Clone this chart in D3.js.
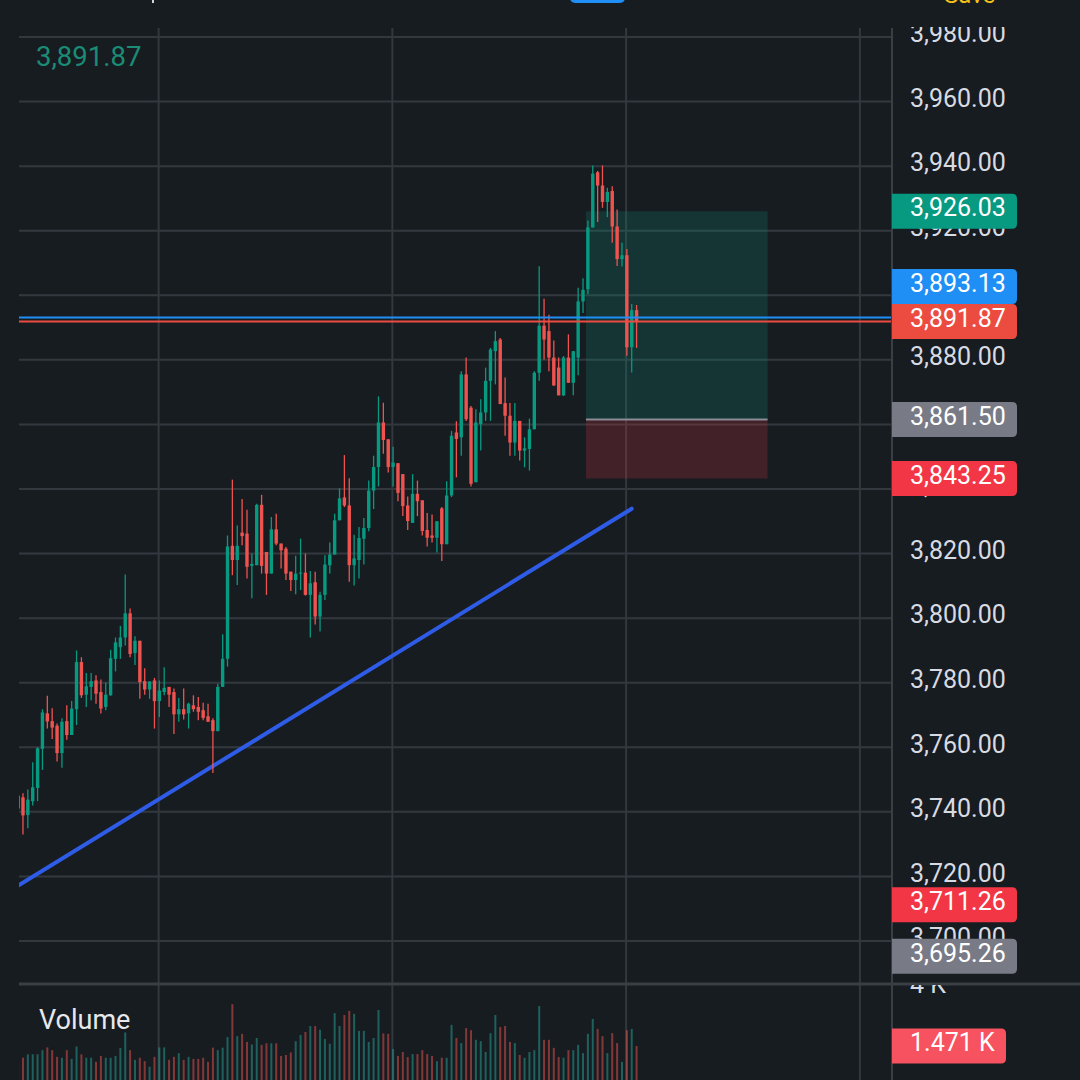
<!DOCTYPE html>
<html><head><meta charset="utf-8">
<script src="https://cdn.jsdelivr.net/npm/d3@7"></script>
<style>
html,body{margin:0;padding:0;background:#171c21;}
svg{display:block;font-family:Roboto,"Noto Sans",sans-serif;}
</style>
</head><body>
<svg id="chart" width="1080" height="1080"></svg>
<script>
// ---------- data ----------
const opens = [3745.0,
3744.5,3739.0,3743.3,3747.4,3759.5,3770.5,3768.1,3766.7,3758.2,3768.1,
3763.8,3771.8,3786.4,3776.3,3778.7,3780.7,3777.1,3772.5,3776.1,3787.4,
3791.0,3794.0,3801.5,3789.2,3793.0,3780.5,3777.9,3780.7,3774.3,3777.1,
3778.7,3777.1,3770.2,3771.8,3770.5,3773.0,3772.5,3771.5,3769.6,3768.4,
3765.0,3778.7,3787.4,3822.4,3818.0,3826.5,3826.2,3816.2,3816.4,3835.1,
3820.5,3813.8,3827.5,3823.1,3821.5,3814.4,3811.8,3813.8,3814.1,3807.2,
3811.1,3800.5,3807.2,3816.4,3819.7,3830.3,3837.4,3834.9,3816.4,3818.0,
3824.6,3827.9,3839.5,3846.8,3860.6,3855.4,3846.8,3848.0,3844.6,3834.9,
3829.5,3838.5,3836.5,3827.3,3825.6,3824.9,3834.0,3822.9,3838.0,3857.5,
3856.0,3875.5,3865.2,3842.1,3860.1,3863.7,3873.5,3882.7,3886.3,3866.6,
3862.7,3854.4,3861.1,3851.9,3852.4,3858.5,3876.0,3890.6,3888.9,3880.7,
3877.6,3869.0,3880.7,3872.9,3880.7,3898.1,3901.9,3921.0,3938.1,3934.0,
3928.9,3932.3,3921.3,3911.2,3912.4,3883.9,3895.4];
const highs = [3745.8,
3745.8,3746.9,3755.4,3760.0,3771.8,3776.0,3772.1,3767.4,3769.0,3773.0,
3774.3,3790.0,3787.9,3783.0,3783.0,3782.3,3781.0,3780.0,3790.2,3794.0,
3797.6,3813.5,3803.0,3794.4,3793.0,3784.5,3780.4,3781.5,3780.7,3784.8,
3778.7,3778.2,3775.3,3778.2,3773.8,3776.1,3775.6,3773.8,3773.5,3769.0,
3779.7,3795.0,3825.6,3842.9,3828.7,3836.9,3833.6,3820.0,3835.4,3838.2,
3820.5,3831.3,3832.3,3823.1,3822.0,3814.4,3819.3,3824.6,3820.0,3814.6,
3814.4,3808.2,3819.5,3823.4,3832.3,3840.2,3850.5,3843.3,3825.8,3828.2,
3831.0,3842.6,3850.3,3868.7,3866.7,3855.4,3853.1,3848.0,3844.6,3837.7,
3844.6,3842.6,3836.5,3832.6,3832.1,3830.0,3834.4,3842.4,3858.0,3861.0,
3876.5,3880.7,3865.7,3864.7,3867.8,3877.6,3883.7,3888.9,3886.8,3874.5,
3866.6,3866.6,3861.1,3856.0,3861.8,3876.5,3909.0,3898.9,3894.0,3886.0,
3880.7,3881.2,3887.9,3882.7,3902.3,3905.3,3923.2,3940.2,3938.5,3940.2,
3933.3,3933.8,3926.6,3916.3,3914.3,3897.3,3897.0];
const lows = [3740.0,
3733.0,3734.9,3742.0,3743.3,3753.0,3765.8,3762.6,3755.6,3753.7,3762.3,
3763.8,3766.9,3775.3,3772.5,3774.6,3773.5,3770.5,3771.5,3776.0,3783.5,
3787.4,3791.5,3787.9,3785.5,3775.0,3776.3,3775.0,3765.8,3769.4,3776.1,
3772.5,3764.1,3767.9,3768.6,3765.8,3771.0,3768.4,3768.4,3767.9,3752.0,
3765.0,3778.7,3785.0,3813.3,3810.3,3822.6,3812.3,3806.2,3816.4,3813.8,
3807.2,3813.8,3822.6,3815.4,3811.8,3808.4,3807.4,3808.7,3807.0,3794.0,
3798.0,3795.9,3805.6,3813.8,3819.7,3830.3,3834.4,3811.3,3810.1,3812.3,
3816.6,3826.9,3833.8,3840.8,3850.9,3845.1,3840.8,3836.2,3831.6,3827.3,
3829.5,3831.6,3825.6,3822.2,3823.4,3820.3,3817.7,3822.9,3837.5,3843.6,
3850.3,3861.1,3840.8,3842.1,3851.9,3861.1,3861.1,3872.4,3866.3,3856.5,
3850.3,3850.3,3848.8,3846.7,3845.7,3858.5,3873.5,3880.1,3876.5,3871.9,
3869.0,3868.8,3872.9,3869.0,3875.2,3894.5,3900.4,3921.0,3922.7,3927.1,
3924.2,3916.3,3909.1,3908.9,3881.3,3876.1,3883.7];
const closes = [3741.0,
3738.9,3743.8,3747.6,3759.7,3770.8,3768.0,3766.1,3758.2,3767.9,3763.8,
3772.0,3786.4,3776.1,3778.9,3780.5,3776.6,3772.0,3776.3,3787.6,3792.5,
3794.0,3801.5,3788.9,3793.0,3780.2,3777.9,3780.4,3774.3,3777.6,3778.4,
3776.3,3770.2,3771.8,3770.2,3773.5,3771.8,3771.0,3769.1,3767.9,3765.0,
3778.7,3787.4,3822.2,3818.0,3822.4,3825.4,3815.9,3816.8,3835.1,3816.2,
3813.8,3827.5,3823.1,3821.0,3813.8,3811.8,3813.8,3814.1,3807.2,3810.8,
3800.5,3807.2,3816.6,3819.7,3830.3,3837.1,3834.9,3816.4,3818.5,3824.8,
3827.9,3839.5,3846.8,3860.6,3855.2,3846.8,3848.2,3838.8,3834.7,3830.1,
3838.5,3836.2,3827.0,3824.9,3824.9,3830.0,3822.9,3838.0,3856.5,3855.5,
3875.5,3861.6,3841.6,3860.6,3863.7,3873.5,3883.2,3885.8,3866.3,3862.7,
3854.4,3861.1,3851.9,3852.6,3858.5,3876.0,3890.6,3886.3,3880.7,3872.1,
3869.0,3880.7,3872.9,3882.7,3898.1,3901.7,3921.0,3937.7,3934.0,3928.9,
3932.0,3921.3,3911.2,3912.4,3883.9,3895.4,3891.87];
// volume in thousands
const volumes = [0.64,
0.96,1.11,1.11,1.11,1.29,1.41,1.29,1.00,0.96,1.29,
0.91,1.45,1.11,0.96,0.96,0.78,1.04,0.96,0.96,1.04,
1.38,2.06,1.29,0.87,0.96,0.81,0.57,1.00,1.41,1.41,
0.87,1.00,1.16,0.87,1.00,0.91,0.91,0.96,0.78,1.40,
1.29,1.40,1.86,3.29,1.90,2.00,1.65,1.54,1.82,1.52,
1.59,1.59,1.59,1.04,1.08,1.19,1.68,1.95,2.08,2.34,
2.34,2.18,1.78,1.57,2.90,2.34,2.82,3.00,2.87,2.13,
2.13,1.65,1.82,3.04,2.02,2.00,1.34,1.04,1.21,0.99,
1.12,1.12,1.29,1.12,1.04,0.81,0.96,0.96,2.39,1.82,
1.60,2.25,2.16,1.74,1.68,1.21,2.03,2.82,2.30,2.34,
1.65,1.60,1.08,0.96,1.21,1.29,3.21,1.74,1.74,1.39,
0.99,0.96,1.29,1.29,1.52,1.16,2.00,2.65,2.21,1.90,
1.16,2.03,1.60,0.78,2.16,2.21,1.471];

const priceTicks = [3980,3960,3940,3920,3900,3880,3860,3840,3820,3800,3780,3760,3740,3720,3700];
const volumeTicks = [4];
const timeGridIndex = [28.85, 76.85, 124.85, 172.85];

// drawings (in data units: candle index / price)
const trendStart = {i: 0.2, price: 3717.3};
const trendEnd   = {i: 126, price: 3833.9};
const positionStartIdx = 116.6, positionEndIdx = 153.9;
const targetPrice = 3926.03, entryPrice = 3861.50, stopPrice = 3843.25;
const bluePrice = 3893.13, lastPrice = 3891.87;

const axisLabels = [
  {value: lastPrice,  text: "3,891.87", color: "#ec4c40", priority: 0},
  {value: bluePrice,  text: "3,893.13", color: "#1f8ef5", priority: 1},
  {value: targetPrice,text: "3,926.03", color: "#089981", priority: 2},
  {value: entryPrice, text: "3,861.50", color: "#787b86", priority: 3},
  {value: stopPrice,  text: "3,843.25", color: "#f23645", priority: 4},
  {value: 3711.26,    text: "3,711.26", color: "#f23645", priority: 5},
  {value: 3695.26,    text: "3,695.26", color: "#787b86", priority: 6}
];
const volumeLabel = {value: 1.471, text: "1.471 K", color: "#f7525f"};

// ---------- layout ----------
const W = 1080, H = 1080;
const plotL = 19, plotR = 892, paneTop = 28, paneBot = 983, volTop = 986;
const UP = "#089981", DOWN = "#ef5350";
const UPV = "rgba(38,166,154,0.5)", DOWNV = "rgba(239,83,80,0.5)";
const GRID = "#33383e";
const TXT_DY = "0.21em";

const N = opens.length;
const x = d3.scaleLinear().domain([0, N - 1]).range([18.1, 18.1 + 4.87 * (N - 1)]);
const y = d3.scaleLinear().domain([3700, 3980]).range([941, 37]);
const yv = d3.scaleLinear().domain([0, 4]).range([1079.8, 987.9]);

const svg = d3.select("#chart");
svg.append("rect").attr("width", W).attr("height", H).attr("fill", "#171c21");

const defs = svg.append("defs");
defs.append("clipPath").attr("id", "mainClip").append("rect")
  .attr("x", plotL).attr("y", paneTop).attr("width", plotR - plotL).attr("height", paneBot - paneTop);
defs.append("clipPath").attr("id", "volClip").append("rect")
  .attr("x", plotL).attr("y", volTop).attr("width", plotR - plotL).attr("height", H - volTop);
defs.append("clipPath").attr("id", "axisClip").append("rect")
  .attr("x", plotR).attr("y", paneTop - 1).attr("width", W - plotR).attr("height", paneBot - paneTop + 1);
defs.append("clipPath").attr("id", "vaxisClip").append("rect")
  .attr("x", plotR).attr("y", 985).attr("width", W - plotR).attr("height", H - 985);

// top bar remnants
svg.append("rect").attr("x", 570).attr("y", -12).attr("width", 55).attr("height", 15).attr("rx", 5).attr("fill", "#1f8ef5");
svg.append("text").attr("x", 944).attr("y", 3).attr("fill", "#f2c21b").attr("font-size", 24).text("Save");
svg.append("rect").attr("x", 152).attr("y", 0).attr("width", 2).attr("height", 3).attr("fill", "#d1d4dc");

// grid
const grid = svg.append("g");
grid.selectAll("line.h").data(priceTicks).join("line")
  .attr("x1", plotL).attr("x2", plotR)
  .attr("y1", d => y(d)).attr("y2", d => y(d))
  .attr("stroke", GRID).attr("stroke-width", 2);
grid.selectAll("line.v").data(timeGridIndex).join("line")
  .attr("x1", d => x(d)).attr("x2", d => x(d))
  .attr("y1", paneTop).attr("y2", H)
  .attr("stroke", GRID).attr("stroke-width", 2);

const main = svg.append("g").attr("clip-path", "url(#mainClip)");

// long position tool
main.append("rect")
  .attr("x", x(positionStartIdx)).attr("width", x(positionEndIdx) - x(positionStartIdx))
  .attr("y", y(targetPrice)).attr("height", y(entryPrice) - y(targetPrice))
  .attr("fill", "rgba(8,153,129,0.2)");
main.append("rect")
  .attr("x", x(positionStartIdx)).attr("width", x(positionEndIdx) - x(positionStartIdx))
  .attr("y", y(entryPrice)).attr("height", y(stopPrice) - y(entryPrice))
  .attr("fill", "rgba(242,54,69,0.2)");
main.append("line")
  .attr("x1", x(positionStartIdx)).attr("x2", x(positionEndIdx))
  .attr("y1", y(entryPrice)).attr("y2", y(entryPrice))
  .attr("stroke", "#8a8d96").attr("stroke-width", 2);

// trend line
main.append("line")
  .attr("x1", x(trendStart.i)).attr("y1", y(trendStart.price))
  .attr("x2", x(trendEnd.i)).attr("y2", y(trendEnd.price))
  .attr("stroke", "#2e5ce6").attr("stroke-width", 4).attr("stroke-linecap", "round");

// candles
const candles = d3.range(N).map(i => ({i, o: opens[i], h: highs[i], l: lows[i], c: closes[i], v: volumes[i]}));
const cg = main.append("g");
cg.selectAll("line.wick").data(candles).join("line")
  .attr("x1", d => x(d.i)).attr("x2", d => x(d.i))
  .attr("y1", d => y(d.h)).attr("y2", d => y(d.l))
  .attr("stroke", d => d.c >= d.o ? UP : DOWN).attr("stroke-width", 1.3);
cg.selectAll("rect.body").data(candles).join("rect")
  .attr("x", d => x(d.i) - 1.7).attr("width", 3.4)
  .attr("y", d => y(Math.max(d.o, d.c)))
  .attr("height", d => Math.max(1, Math.abs(y(d.o) - y(d.c))))
  .attr("fill", d => d.c >= d.o ? UP : DOWN);

// horizontal price lines
main.append("line").attr("x1", plotL).attr("x2", plotR)
  .attr("y1", y(bluePrice)).attr("y2", y(bluePrice))
  .attr("stroke", "#1f8ef5").attr("stroke-width", 2);
main.append("line").attr("x1", plotL).attr("x2", plotR)
  .attr("y1", y(lastPrice)).attr("y2", y(lastPrice))
  .attr("stroke", "#ec4c40").attr("stroke-width", 2);

// top-left value
svg.append("text").attr("x", 36).attr("y", 56).attr("dy", "0.35em")
  .attr("fill", "#1a8c76").attr("font-size", 27.5).text(d3.format(",.2f")(lastPrice));

// volume
const vg = svg.append("g").attr("clip-path", "url(#volClip)");
vg.selectAll("rect").data(candles).join("rect")
  .attr("x", d => x(d.i) - 1).attr("width", 2)
  .attr("y", d => yv(d.v)).attr("height", d => H - yv(d.v) + 2)
  .attr("fill", d => d.c >= d.o ? UPV : DOWNV);
svg.append("text").attr("x", 39).attr("y", 1020).attr("dy", "0.35em")
  .attr("fill", "#e6e8ec").attr("font-size", 27).text("Volume");

// pane separator and axis border
svg.append("line").attr("x1", plotL).attr("x2", W).attr("y1", 984).attr("y2", 984)
  .attr("stroke", "#3a3f45").attr("stroke-width", 3);
svg.append("line").attr("x1", plotR).attr("x2", plotR).attr("y1", paneTop).attr("y2", H)
  .attr("stroke", "#3a3f45").attr("stroke-width", 2);

// price axis ticks
const fmt = d3.format(",.2f");
svg.append("g").attr("clip-path", "url(#axisClip)")
  .selectAll("text").data(priceTicks).join("text")
  .attr("x", 910).attr("y", d => y(d)).attr("dy", TXT_DY)
  .attr("fill", "#d8dbe2").attr("font-size", 25).text(d => fmt(d));
svg.append("g").attr("clip-path", "url(#vaxisClip)")
  .selectAll("text").data(volumeTicks).join("text")
  .attr("x", 910).attr("y", d => yv(d)).attr("dy", TXT_DY)
  .attr("fill", "#d8dbe2").attr("font-size", 25).text(d => d + " K");

// label boxes with collision avoidance
function rrPath(x0, y0, w, h, r) {
  return `M${x0},${y0}H${x0 + w - r}Q${x0 + w},${y0} ${x0 + w},${y0 + r}V${y0 + h - r}Q${x0 + w},${y0 + h} ${x0 + w - r},${y0 + h}H${x0}Z`;
}
const BH = 35, GAP = 0;
const placed = [];
axisLabels.slice().sort((a, b) => a.priority - b.priority).forEach(lb => {
  let c = y(lb.value);
  let moved = true;
  while (moved) {
    moved = false;
    for (const p of placed) {
      if (Math.abs(c - p.c) < BH + GAP - 0.01) {
        c = lb.value > p.value ? p.c - BH - GAP : p.c + BH + GAP;
        moved = true;
      }
    }
  }
  placed.push({value: lb.value, c, lb});
});
const lg = svg.append("g");
placed.forEach(p => {
  lg.append("path").attr("d", rrPath(plotR, p.c - BH / 2, 125, BH, 5)).attr("fill", p.lb.color);
  lg.append("text").attr("x", 910).attr("y", p.c).attr("dy", TXT_DY)
    .attr("fill", "#ffffff").attr("font-size", 25).text(p.lb.text);
});
const vc = yv(volumeLabel.value);
lg.append("path").attr("d", rrPath(plotR, vc - BH / 2, 114, BH, 5)).attr("fill", volumeLabel.color);
lg.append("text").attr("x", 910).attr("y", vc).attr("dy", TXT_DY)
  .attr("fill", "#ffffff").attr("font-size", 25).text(volumeLabel.text);
</script>
</body></html>
